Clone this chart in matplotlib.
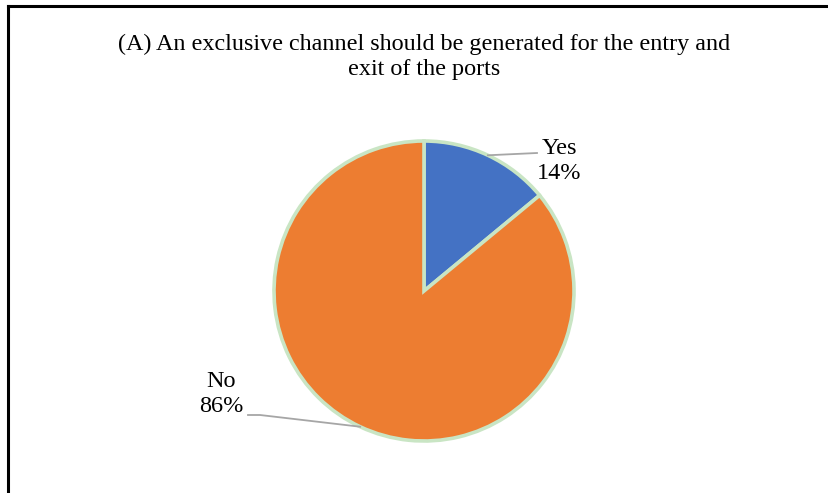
import numpy as np
import matplotlib.pyplot as plt
from matplotlib.lines import Line2D

title = "(A) An exclusive channel should be generated for the entry and\nexit of the ports"
labels = ["Yes", "No"]
shares = [14, 86]
colors = ["#4472C4", "#ED7D31"]

plt.rcParams['font.family'] = ['Liberation Serif', 'DejaVu Serif']

W, H = 829, 493
fig = plt.figure(figsize=(W / 100, H / 100), dpi=100)
ax = fig.add_axes([0, 0, 1, 1])

# chart frame (left and top edges visible)
ax.add_line(Line2D([8.5, 8.5], [0, H - 5.5], color='black', lw=2.2))
ax.add_line(Line2D([8.5, W], [H - 5.5, H - 5.5], color='black', lw=2.2))

cx, cy, r = 424, H - 291, 150
wedges, _ = ax.pie(shares, colors=colors, startangle=90, counterclock=False,
                   center=(cx, cy), radius=r, frame=True,
                   wedgeprops=dict(edgecolor='#C9E5C4', linewidth=2.6))
ax.set_xlim(0, W)
ax.set_ylim(0, H)
ax.axis('off')

# label text anchors and leader elbows (pixel positions)
label_pos = [(559, H - 161), (221, H - 394)]
elbows = [[(537, H - 153)], [(260, H - 415), (248, H - 415)]]
for w, lab, s, pos, elb in zip(wedges, labels, shares, label_pos, elbows):
    mid = np.deg2rad((w.theta1 + w.theta2) / 2)
    x0, y0 = cx + r * np.cos(mid), cy + r * np.sin(mid)
    xs = [x0] + [p[0] for p in elb]
    ys = [y0] + [p[1] for p in elb]
    ax.add_line(Line2D(xs, ys, color='#A6A6A6', lw=1.3))
    ax.text(pos[0], pos[1], f"{lab}\n{s}%", ha='center', va='center',
            fontsize=17.5, linespacing=1.2)

ax.text(424, H - 57, title, ha='center', va='center', fontsize=17.4, linespacing=1.3)

fig.savefig('out.png', dpi=100)
